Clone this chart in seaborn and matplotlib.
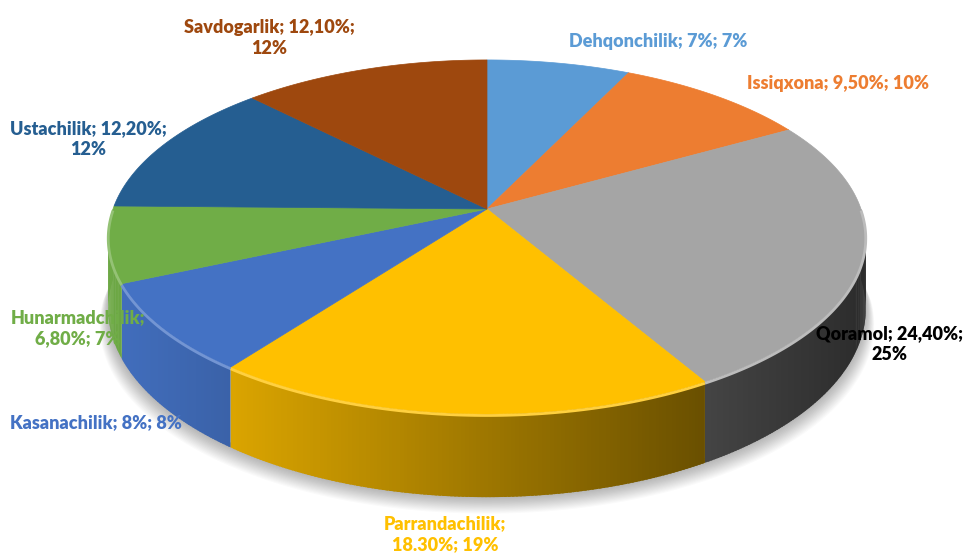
import numpy as np
import matplotlib
matplotlib.use("Agg")
import matplotlib.pyplot as plt
from matplotlib.collections import PolyCollection
from matplotlib.colors import to_rgb
import seaborn as sns

# ---------------- data ----------------
categories = ["Dehqonchilik", "Issiqxona", "Qoramol", "Parrandachilik",
              "Kasanachilik", "Hunarmadchilik", "Ustachilik", "Savdogarlik"]
values = [7.0, 9.5, 24.4, 18.3, 8.0, 6.8, 12.2, 12.1]
value_labels = ["7%", "9,50%", "24,40%", "18.30%", "8%", "6,80%", "12,20%", "12,10%"]
percent_labels = ["7%", "10%", "25%", "19%", "8%", "7%", "12%", "12%"]
hex_colors = ["#5B9BD5", "#ED7D31", "#A5A5A5", "#FFC000",
              "#4472C4", "#70AD47", "#255E91", "#9E480E"]

sns.set_theme(style="white")
plt.rcParams['font.family'] = ['Lato', 'DejaVu Sans']
palette = sns.color_palette(hex_colors)

# ---------------- layout (perspective projection of the disk) ----------------
CX, CY = 487.0, 209.0
R, B, A = 374.0, 172.6, 0.158
DEPTH = 70.0

def proj(phi_deg, drop=0.0):
    p = np.radians(phi_deg)
    den = 1.0 + A * np.sin(p)
    x = CX + R * np.cos(p) / den
    y = CY - B * np.sin(p) / den + drop / den
    return x, y

def shade(x):
    f = 0.85 - 0.000935 * (x - 240.0)
    return float(np.clip(f, 0.25, 0.97))

fig = plt.figure(figsize=(9.67, 5.55), dpi=100)
ax = fig.add_axes([0, 0, 1, 1])
ax.set_xlim(0, 967)
ax.set_ylim(555, 0)
ax.axis("off")

total = sum(values)
fracs = [v / total for v in values]
starts, ends = [], []
cum = 0.0
for f in fracs:
    starts.append(90.0 - 360.0 * cum)
    cum += f
    ends.append(90.0 - 360.0 * cum)

# soft shadow beneath the pie (only below the bottom outline)
phis_front = np.linspace(-178, -2, 200)
xs, ys = proj(phis_front, DEPTH)
for k in range(1, 16):
    xs2 = CX + (xs - CX) * (1 + 0.0015 * k)
    pts = np.column_stack([np.concatenate([xs2, xs[::-1]]),
                           np.concatenate([ys + k * 1.1, ys[::-1] - 5])])
    ax.add_patch(plt.Polygon(pts, closed=True, facecolor="#000000",
                             edgecolor="none", alpha=0.02, zorder=1))

# side faces (front half) with horizontal lighting gradient
polys, cols = [], []
for i in range(len(values)):
    lo, hi = ends[i], starts[i]
    a0, a1 = max(lo, -180.0), min(hi, 0.0)
    if a1 <= a0:
        continue
    n = max(2, int((a1 - a0) / 0.5))
    grid = np.linspace(a0, a1, n + 1)
    base = np.array(to_rgb(palette[i]))
    for j in range(n):
        p0 = grid[j]
        p1 = min(grid[j + 1] + 0.35, a1)
        pm = np.linspace(p0, p1, 3)
        xt, yt = proj(pm)
        xb_, yb_ = proj(pm[::-1], DEPTH)
        polys.append(list(zip(np.concatenate([xt, xb_]), np.concatenate([yt, yb_]))))
        c = base * shade(float(np.mean(xt)))
        cols.append(tuple(np.clip(c, 0, 1)))
pc = PolyCollection(polys, facecolors=cols, edgecolors="none", linewidths=0,
                    antialiaseds=True, zorder=2)
ax.add_collection(pc)

# top faces
for i in range(len(values)):
    phis = np.linspace(starts[i], ends[i], 200)
    xs_, ys_ = proj(phis)
    pts = np.column_stack([np.concatenate([[CX], xs_]), np.concatenate([[CY], ys_])])
    ax.add_patch(plt.Polygon(pts, closed=True, facecolor=palette[i],
                             edgecolor=palette[i], linewidth=0.5, zorder=3))
    a0, a1 = max(ends[i], -180.0), min(starts[i], 0.0)
    if a1 > a0:
        ph = np.linspace(a0, a1, 100)
        xr, yr = proj(ph)
        base = np.array(to_rgb(palette[i]))
        light = tuple(base + (1 - base) * 0.25)
        ax.plot(xr, yr + 1.5, color=light, lw=2.0, zorder=4, solid_capstyle="butt")

# ---------------- labels ----------------
label_pos = {
    "Dehqonchilik": (658, 42, False),
    "Issiqxona": (838, 84, False),
    "Qoramol": (890, 344, True),
    "Parrandachilik": (445, 534, True),
    "Kasanachilik": (96, 423, False),
    "Hunarmadchilik": (78, 328, True),
    "Ustachilik": (88, 139, True),
    "Savdogarlik": (269, 38, True),
}
for i, cat in enumerate(categories):
    x, y, wrap = label_pos[cat]
    if wrap:
        if cat in ("Parrandachilik", "Hunarmadchilik"):
            txt = f"{cat};\n{value_labels[i]}; {percent_labels[i]}"
        else:
            txt = f"{cat}; {value_labels[i]};\n{percent_labels[i]}"
    else:
        txt = f"{cat}; {value_labels[i]}; {percent_labels[i]}"
    ax.text(x, y, txt, color=palette[i] if cat != "Qoramol" else "#000000",
            fontsize=13, fontweight="heavy", ha="center", va="center",
            multialignment="center", linespacing=1.25, zorder=6)

fig.savefig("out.png", dpi=100)
